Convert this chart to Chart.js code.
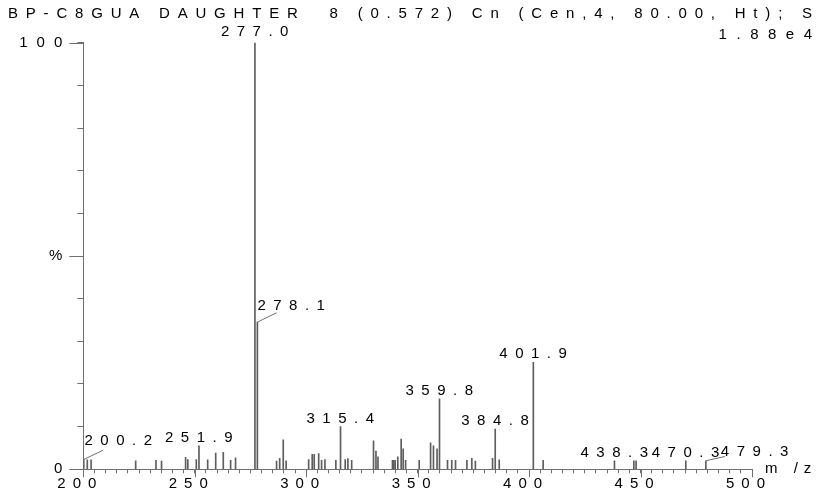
<!DOCTYPE html>
<html>
<head>
<meta charset="utf-8">
<script src="https://cdn.jsdelivr.net/npm/chart.js@4.4.0/dist/chart.umd.min.js"></script>
<style>
html,body{margin:0;padding:0;background:#fff;}
canvas{display:block;}
</style>
</head>
<body>
<canvas id="c" width="820" height="491"></canvas>
<script>
// ---------- data ----------
const titleText = 'BP-C8GUA DAUGHTER  8 (0.572) Cn (Cen,4, 80.00, Ht); S';
const scaleText = '1.88e4';
const axisUnitText = 'm /z';

const mzValues = [
  200.2, 201.8, 203.5, 223.5, 232.6, 235.1, 245.9, 246.9, 250.7, 251.9,
  255.8, 259.4, 262.8, 266.1, 268.3, 277.0, 278.1, 286.7, 288.1, 289.7,
  291.0, 301.1, 302.7, 303.6, 305.6, 306.9, 308.4, 313.3, 315.4, 317.5,
  318.7, 320.4, 330.2, 331.3, 332.2, 338.7, 339.3, 339.9, 341.1, 342.6,
  343.5, 344.6, 350.7, 355.8, 357.1, 358.7, 359.8, 363.4, 365.3, 367.0,
  372.1, 374.3, 375.9, 383.6, 384.8, 386.6, 401.9, 406.3, 438.3, 447.0,
  448.0, 470.3, 479.3
];
const intensities = [
  2.3, 2.2, 2.2, 2.0, 2.1, 1.9, 2.8, 2.3, 2.3, 5.5,
  2.2, 3.8, 4.0, 2.1, 2.7, 100, 34.5, 1.9, 2.6, 6.9,
  2.0, 2.3, 3.5, 3.5, 3.7, 2.1, 2.3, 2.1, 10.0, 2.3,
  2.5, 2.1, 6.7, 4.3, 2.9, 2.1, 2.1, 2.1, 2.9, 7.1,
  4.8, 2.1, 2.1, 6.2, 5.5, 4.8, 16.5, 2.1, 2.1, 2.1,
  2.1, 2.6, 1.9, 2.6, 9.4, 2.2, 25.1, 2.1, 2.0, 2.0,
  2.0, 2.0, 2.0
];
const peakLabelMz = [200.2, 251.9, 277.0, 278.1, 315.4, 359.8, 384.8, 401.9, 438.3, 470.3, 479.3];
const peakLabelText = ['200.2', '251.9', '277.0', '278.1', '315.4', '359.8', '384.8', '401.9', '438.3', '470.3', '479.3'];
const xMajorTicks = [200, 250, 300, 350, 400, 450, 500];
const yMajorTicks = [0, 50, 100];
const yTickLabels = { 0: '0', 50: '%', 100: '100' };

// ---------- style ----------
const FONT = '"Liberation Sans", Arial, Helvetica, sans-serif';
const AXIS_COLOR = '#707070';
const BAR_COLOR = '#5e5e5e';
const TEXT_COLOR = '#000';
const LABEL_STYLE = {
  '200.2': { leader: [19.4, -9.3], tx: 0.7, ty: -18.3, align: 'left' },
  '278.1': { leader: [19.3, -9.4], tx: 0, ty: -16.7, align: 'left' },
  '479.3': { leader: [19, -4.3], tx: 15, ty: -8.6, align: 'left' },
  '277.0': { ty: -10.5 }
};

const decor = {
  id: 'decor',
  beforeDraw(chart) {
    const patch = (scale, spacing) => {
      if (scale._lsPatched) return;
      const orig = scale.drawLabels.bind(scale);
      scale.drawLabels = function (area) {
        const c = this.ctx; c.save(); c.letterSpacing = spacing; orig(area); c.restore();
      };
      scale._lsPatched = true;
    };
    patch(chart.scales.x, '7px');
    patch(chart.scales.y, '9px');
  },
  afterDraw(chart) {
    const ctx = chart.ctx, xs = chart.scales.x, ys = chart.scales.y;
    ctx.save();
    // longer major ticks
    ctx.strokeStyle = AXIS_COLOR; ctx.lineWidth = 1;
    ctx.beginPath();
    xMajorTicks.forEach(v => {
      const px = Math.round(xs.getPixelForValue(v)) + 0.5;
      ctx.moveTo(px, ys.bottom); ctx.lineTo(px, ys.bottom + 8);
    });
    yMajorTicks.forEach(v => {
      const py = Math.round(ys.getPixelForValue(v)) + 0.5;
      ctx.moveTo(xs.left - 14, py); ctx.lineTo(xs.left, py);
    });
    ctx.stroke();

    ctx.fillStyle = TEXT_COLOR;
    ctx.textBaseline = 'middle';
    // title
    ctx.font = '15px ' + FONT;
    ctx.letterSpacing = '0px';
    const natural = ctx.measureText(titleText).width;
    const sp = (804 - natural) / (titleText.length - 1);
    ctx.letterSpacing = sp.toFixed(2) + 'px';
    ctx.textAlign = 'left';
    ctx.fillText(titleText, 8, 14);
    // scale factor
    ctx.letterSpacing = '9.5px';
    ctx.textAlign = 'right';
    ctx.fillText(scaleText, 821.5, 35);
    // axis unit
    ctx.letterSpacing = '6px';
    ctx.textAlign = 'left';
    ctx.fillText(axisUnitText, 765, 469);

    // peak labels
    ctx.letterSpacing = '7.5px';
    peakLabelMz.forEach((m, i) => {
      const idx = mzValues.indexOf(m);
      const bx = xs.getPixelForValue(m);
      const by = ys.getPixelForValue(intensities[idx]);
      const st = LABEL_STYLE[peakLabelText[i]] || {};
      if (st.leader) {
        ctx.beginPath();
        ctx.moveTo(bx, by);
        ctx.lineTo(bx + st.leader[0], by + st.leader[1]);
        ctx.stroke();
      }
      ctx.textAlign = st.align || 'center';
      const tx = st.align === 'left' ? bx + (st.tx || 0) : bx + 3.5;
      ctx.fillText(peakLabelText[i], tx, by + (st.ty !== undefined ? st.ty : -8));
    });
    ctx.restore();
  }
};

new Chart(document.getElementById('c').getContext('2d'), {
  type: 'bar',
  data: {
    datasets: [{
      data: mzValues.map((m, i) => ({ x: m, y: intensities[i] })),
      backgroundColor: BAR_COLOR,
      borderWidth: 0,
      barThickness: 1
    }]
  },
  options: {
    responsive: false,
    animation: false,
    devicePixelRatio: 1,
    layout: { padding: { top: 42.7, right: 68, bottom: 0, left: 0 } },
    plugins: { legend: { display: false }, tooltip: { enabled: false }, title: { display: false } },
    scales: {
      x: {
        type: 'linear', min: 200, max: 500, offset: false,
        grid: { display: true, offset: false, drawOnChartArea: false, drawTicks: true, tickLength: 4, color: AXIS_COLOR, tickColor: AXIS_COLOR },
        border: { display: true, color: AXIS_COLOR, width: 1 },
        ticks: {
          stepSize: 5, autoSkip: false, maxRotation: 0, minRotation: 0, padding: 2,
          labelOffset: -3, color: TEXT_COLOR, font: { family: FONT, size: 15 },
          callback: v => xMajorTicks.includes(v) ? String(v) : ''
        },
        afterFit(s) { s.height = 491 - 469.3; }
      },
      y: {
        min: 0, max: 100,
        grid: { display: true, drawOnChartArea: false, drawTicks: true, tickLength: 6, color: AXIS_COLOR, tickColor: AXIS_COLOR },
        border: { display: true, color: AXIS_COLOR, width: 1 },
        ticks: {
          stepSize: 10, autoSkip: false, padding: 6, color: TEXT_COLOR, font: { family: FONT, size: 15 },
          callback: v => (yTickLabels[v] !== undefined ? yTickLabels[v] : '')
        },
        afterFit(s) { s.width = 83.3; }
      }
    }
  },
  plugins: [decor]
});
</script>
</body>
</html>
